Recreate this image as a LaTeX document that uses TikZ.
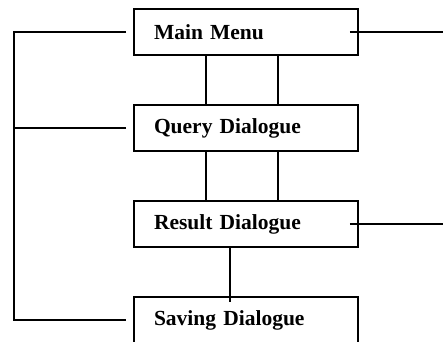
\documentclass[tikz,border=0pt]{standalone}
\usepackage{fontspec}
\setmainfont{Liberation Serif}
\usetikzlibrary{positioning}

\begin{document}
\begin{tikzpicture}[x=1pt,y=1pt,line width=1.6pt,node distance=96pt,on grid,
        dlg/.style={draw, rectangle, text width=184pt, align=left, inner xsep=20pt,
            minimum height=46pt, font=\fontsize{21.5}{24}\selectfont\bfseries}]
        \useasboundingbox (0,0) rectangle (443,-341);
        \node[dlg]   (main)   at (246,-32)           {Main Menu};
        \node[dlg]   (query)  [below of=main]        {Query Dialogue};
        \node[dlg]   (result) [below of=query]       {Result Dialogue};
        \node[dlg]   (save)   [below of=result]      {Saving Dialogue};

        \coordinate (lt) at (14,-32);
        \coordinate (lb) at (lt |- save.west);
        \coordinate (mr) at (443,-32);
        \coordinate (rr) at (mr |- result.east);

        % left bus
        \draw ([xshift=-7pt]main.west) -- (lt) -- (lb) -- ([xshift=-7pt]save.west);
        \draw ([xshift=-7pt]query.west) -- (query.west -| lt);

        % right exits
        \draw ([xshift=-9pt]main.east) -- (mr);
        \draw ([xshift=-9pt]result.east) -- (rr);

        % links down
        \draw ([xshift=-40pt]main.south) -- ([xshift=-40pt]query.north);
        \draw ([xshift=32pt]main.south) -- ([xshift=32pt]query.north);
        \draw ([xshift=-40pt]query.south) -- ([xshift=-40pt]result.north);
        \draw ([xshift=32pt]query.south) -- ([xshift=32pt]result.north);
        \draw ([xshift=-16pt]result.south) -- ([xshift=-16pt,yshift=-6pt]save.north);
    \end{tikzpicture}
\end{document}
